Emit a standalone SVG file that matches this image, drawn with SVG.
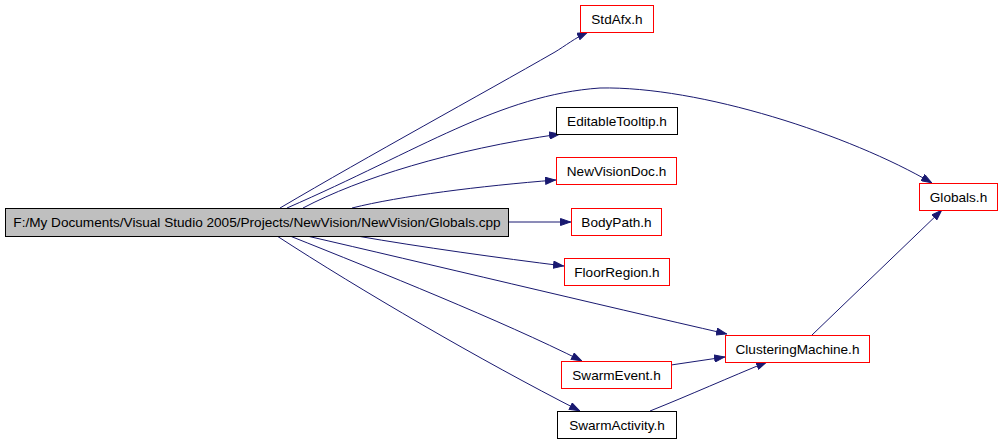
<svg xmlns="http://www.w3.org/2000/svg" width="1002" height="442" viewBox="0 0 1002 442">
<style>
.n rect{fill:#fff;stroke:#000;stroke-width:1}
.n.r rect{stroke:#ff0000}
.n.m rect{fill:#bfbfbf}
.n text{font-family:"Liberation Sans",Arial,sans-serif;font-size:13.6px;text-anchor:middle;fill:#000}
#edges path{fill:none;stroke:#191970;stroke-width:1;marker-end:url(#ah)}
</style>
<defs>
<marker id="ah" viewBox="0 0 11 8" refX="11" refY="4" markerWidth="11" markerHeight="8" markerUnits="userSpaceOnUse" orient="auto">
<path d="M0.5,0.5 L10.5,4 L0.5,7.5 Z" fill="#191970" stroke="#191970" stroke-width="1"/>
</marker>
</defs>
<rect width="1002" height="442" fill="#fff"/>
<g id="edges">
<path d="M280,208 C370,155 480,95 555,52 C565,46 575,38 588,32"/>
<path d="M287,208 C420,150 500,95 600,88 C700,86 850,135 932,183"/>
<path d="M303,208 C360,178 450,150 560,134"/>
<path d="M352,208 C400,196 480,186 556,180"/>
<path d="M508,222 L571,222"/>
<path d="M357,236 C420,247 500,258 564,266"/>
<path d="M307,236 C420,262 600,305 727,334"/>
<path d="M290,236 C380,272 500,320 582,361"/>
<path d="M277,236 C360,290 480,360 580,411"/>
<path d="M671,365 L725,357"/>
<path d="M650,411 C690,395 730,377 767,362"/>
<path d="M812,335 L942,210"/>
</g>
<g id="main" class="n m"><rect x="5.5" y="208.5" width="503" height="28"/><text x="257" y="227">F:/My Documents/Visual Studio 2005/Projects/NewVision/NewVision/Globals.cpp</text></g>
<g id="stdafx" class="n r"><rect x="580.5" y="5.5" width="73" height="27"/><text x="617" y="23.5">StdAfx.h</text></g>
<g id="globalsh" class="n r"><rect x="919.5" y="183.5" width="78" height="27"/><text x="958.5" y="201.5">Globals.h</text></g>
<g id="editabletooltip" class="n"><rect x="556.5" y="107.5" width="121" height="27"/><text x="617" y="125.5">EditableTooltip.h</text></g>
<g id="newvisiondoc" class="n r"><rect x="556.5" y="157.5" width="120" height="27"/><text x="616.5" y="175.5">NewVisionDoc.h</text></g>
<g id="bodypath" class="n r"><rect x="571.5" y="208.5" width="90" height="27"/><text x="616.5" y="226.5">BodyPath.h</text></g>
<g id="floorregion" class="n r"><rect x="564.5" y="258.5" width="105" height="27"/><text x="617" y="276.5">FloorRegion.h</text></g>
<g id="clustering" class="n r"><rect x="725.5" y="335.5" width="144" height="27"/><text x="797.5" y="353.5">ClusteringMachine.h</text></g>
<g id="swarmevent" class="n r"><rect x="561.5" y="361.5" width="110" height="27"/><text x="616.5" y="379.5">SwarmEvent.h</text></g>
<g id="swarmactivity" class="n"><rect x="557.5" y="411.5" width="119" height="27"/><text x="617" y="429.5">SwarmActivity.h</text></g>
</svg>
